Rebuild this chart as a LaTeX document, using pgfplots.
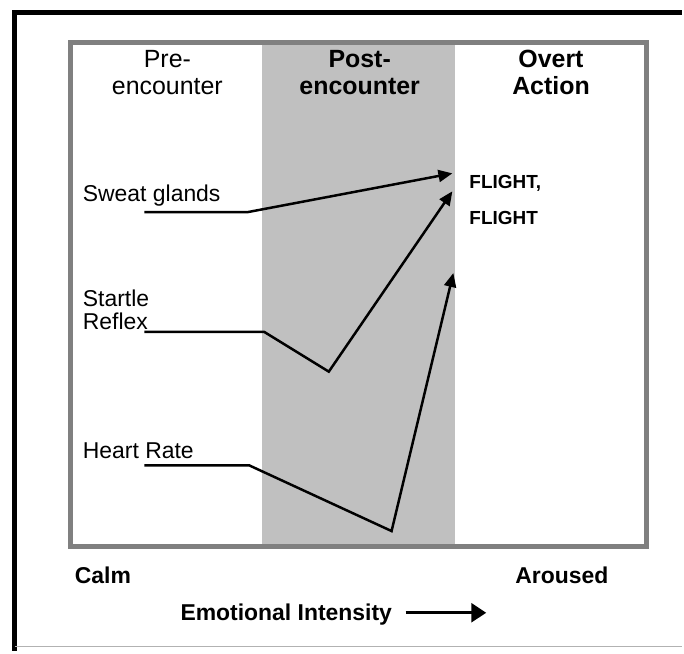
\documentclass[border=0pt]{standalone}
\usepackage{pgfplots}
\pgfplotsset{compat=1.18}
\usepackage{fontspec}
\setmainfont{Liberation Sans}
\usetikzlibrary{arrows.meta}
\definecolor{band}{RGB}{192,192,192}
\definecolor{frame}{RGB}{128,128,128}
\newcommand{\lf}{\fontsize{23bp}{27bp}\selectfont}
\newcommand{\hf}{\fontsize{25bp}{29bp}\selectfont}
\begin{document}
\begin{tikzpicture}
\begin{axis}[
  scale only axis, width=684bp, height=653bp,
  xmin=0, xmax=684, ymin=0, ymax=653, y dir=reverse,
  hide axis, clip=false,
]
% bounding box
\addplot[draw=none] coordinates {(0,0) (684,653)};
% shaded band
\addplot[fill=band, draw=none] coordinates {(263,44) (457,44) (457,546) (263,546)} -- cycle;
% inner frame
\addplot[draw=frame, line width=5bp] coordinates {(70.5,42.5) (648.5,42.5) (648.5,548) (70.5,548)} -- cycle;
% outer frame
\addplot[draw=black, line width=5bp] coordinates {(15,653) (15,12.5) (684,12.5)};
\addplot[draw=black!30, line width=1.5bp] coordinates {(15,649) (684,649)};
% series
\addplot[black, line width=2.5bp, -{Triangle[length=14bp,width=12bp]}] coordinates {(145,213) (248,213) (454,174)};
\addplot[black, line width=2.5bp, -{Triangle[length=14bp,width=12bp]}] coordinates {(145,333) (265,333) (330,373) (454,192)};
\addplot[black, line width=2.5bp, -{Triangle[length=14bp,width=12bp]}] coordinates {(145,467) (250,467) (393,533) (455,274)};
\addplot[black, line width=2.8bp, -{Triangle[length=15bp,width=19bp]}] coordinates {(407,615) (488,615)};
% headers
\node[anchor=base, font=\hf] at (axis cs:168,68) {Pre-};
\node[anchor=base, font=\hf] at (axis cs:168,95) {encounter};
\node[anchor=base, font=\hf\bfseries] at (axis cs:361,68) {Post-};
\node[anchor=base, font=\hf\bfseries] at (axis cs:361,95) {encounter};
\node[anchor=base, font=\hf\bfseries] at (axis cs:553,68) {Overt};
\node[anchor=base, font=\hf\bfseries] at (axis cs:553,95) {Action};
% labels
\node[anchor=base west, inner sep=0pt, font=\lf] at (axis cs:83,202) {Sweat glands};
\node[anchor=base west, inner sep=0pt, font=\lf] at (axis cs:83,308) {Startle};
\node[anchor=base west, inner sep=0pt, font=\lf] at (axis cs:83,331) {Reflex};
\node[anchor=base west, inner sep=0pt, font=\lf] at (axis cs:83,460) {Heart Rate};
\node[anchor=base west, inner sep=0pt, font=\fontsize{19bp}{22bp}\selectfont\bfseries] at (axis cs:471,189) {FLIGHT,};
\node[anchor=base west, inner sep=0pt, font=\fontsize{19bp}{22bp}\selectfont\bfseries] at (axis cs:471,225) {FLIGHT};
\node[anchor=base west, inner sep=0pt, font=\lf\bfseries] at (axis cs:75,586) {Calm};
\node[anchor=base west, inner sep=0pt, font=\lf\bfseries] at (axis cs:517,586) {Aroused};
\node[anchor=base west, inner sep=0pt, font=\lf\bfseries] at (axis cs:181,623) {Emotional Intensity};
\end{axis}
\end{tikzpicture}
\end{document}
